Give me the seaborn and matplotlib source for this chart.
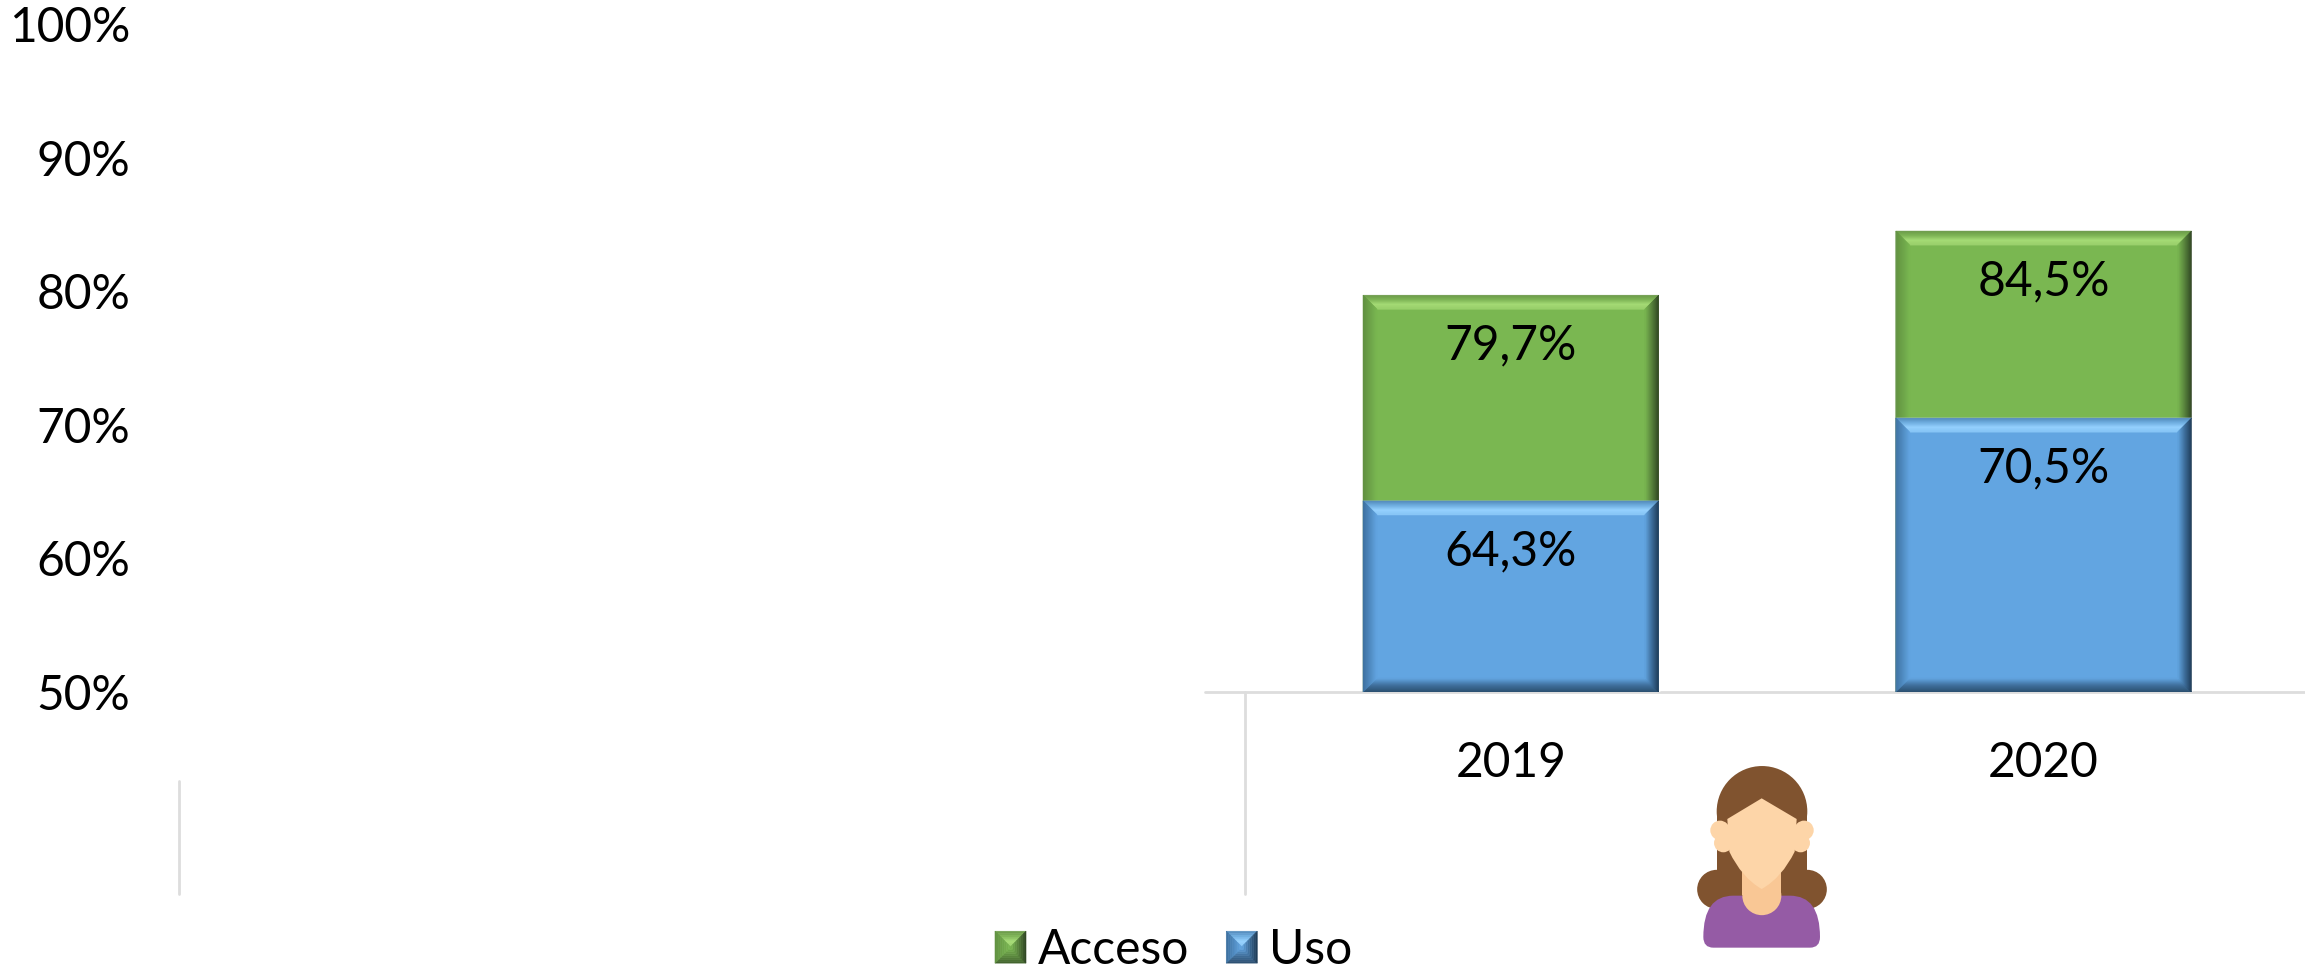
import numpy as np
import pandas as pd
import seaborn as sns
import matplotlib
matplotlib.use("Agg")
import matplotlib.pyplot as plt
from matplotlib.colors import LinearSegmentedColormap
from matplotlib.legend_handler import HandlerBase
from matplotlib.patches import Circle, Patch, PathPatch, Polygon, Rectangle
from matplotlib.path import Path
from matplotlib.transforms import IdentityTransform

# data (the first two categories are empty in the original)
categories = ["", " ", "2019", "2020"]
acceso = [np.nan, np.nan, 79.7, 84.5]
uso = [np.nan, np.nan, 64.3, 70.5]
y_ticks = [50, 60, 70, 80, 90, 100]

# styles
GREEN = "#7AB751"
BLUE = "#62A5E1"
LINE = "#DDDDDD"
FONT = 34.5
BEVELS = {
    GREEN: dict(top=["#6A9848", "#7FB557", "#A6DC76", "#9AD06C"], bottom=["#3F5F2C", GREEN],
                left=["#5F8F40", GREEN], right=["#2C4021", "#557F3A", GREEN]),
    BLUE: dict(top=["#5288B8", "#6FAEE0", "#96D2FF", "#88C6F6"], bottom=["#2B4E6E", "#3F6F9C", BLUE],
               left=["#3C6F9E", BLUE], right=["#1B3650", "#3B6A96", BLUE]),
}

sns.set_theme(style="white")
plt.rcParams["font.family"] = ["Lato", "DejaVu Sans"]


def bevel_polys(x0, y0, x1, y1, w, face, n=14, **kw):
    """Trapezoid slices running from the outer edge of a box towards its inside."""
    polys = []
    for side, stops in BEVELS[face].items():
        cmap = LinearSegmentedColormap.from_list(side, stops)
        for i in range(n):
            a, b = w * i / n, w * (i + 1) / n
            c = cmap((i + 0.5) / n)
            if side == "top":
                pts = [(x0 + a, y1 - a), (x1 - a, y1 - a), (x1 - b, y1 - b), (x0 + b, y1 - b)]
            elif side == "bottom":
                pts = [(x0 + a, y0 + a), (x1 - a, y0 + a), (x1 - b, y0 + b), (x0 + b, y0 + b)]
            elif side == "left":
                pts = [(x0 + a, y0 + a), (x0 + a, y1 - a), (x0 + b, y1 - b), (x0 + b, y0 + b)]
            else:
                pts = [(x1 - a, y0 + a), (x1 - a, y1 - a), (x1 - b, y1 - b), (x1 - b, y0 + b)]
            polys.append(Polygon(pts, closed=True, facecolor=c, edgecolor=c, linewidth=0.4, **kw))
    return polys


class BevelHandler(HandlerBase):
    def create_artists(self, legend, orig_handle, xdescent, ydescent, width, height, fontsize, trans):
        face = matplotlib.colors.to_hex(orig_handle.get_facecolor()).upper()
        return bevel_polys(-xdescent, -ydescent, width - xdescent, height - ydescent,
                           width / 2, face, n=8, transform=trans)


df = pd.DataFrame({"cat": categories, "Acceso": acceso, "Uso": uso})

fig = plt.figure(figsize=(23.05, 9.73), dpi=100)
ax = fig.add_axes([179 / 2305, (973 - 692) / 973, 2131 / 2305, 668 / 973])

sns.barplot(data=df, x="cat", y="Acceso", order=categories, color=GREEN, saturation=1,
            width=0.555, zorder=2, ax=ax)
sns.barplot(data=df, x="cat", y="Uso", order=categories, color=BLUE, saturation=1,
            width=0.555, zorder=3, ax=ax)

ax.set_xlim(-0.5, 3.5)
ax.set_ylim(50, 100)
ax.set_yticks(y_ticks)
ax.set_yticklabels([f"{v}%" for v in y_ticks])
ax.set_xlabel("")
ax.set_ylabel("")
ax.tick_params(axis="y", length=0, pad=35, labelsize=FONT, labelcolor="black")
ax.tick_params(axis="x", length=0, pad=35, labelsize=FONT, labelcolor="black")
sns.despine(ax=ax, left=True, bottom=True, top=True, right=True)

# bevels and value labels
for cont, values, face, z in zip(ax.containers, [acceso, uso], [GREEN, BLUE], [2.5, 3.5]):
    shown = [v for v in values if not np.isnan(v)]
    for bar, v in zip(cont.patches, shown):
        xa, xb = bar.get_x(), bar.get_x() + bar.get_width()
        (x0, y0), (x1, y1) = ax.transData.transform([(xa, 50), (xb, v)])
        for p in bevel_polys(x0, y0, x1, y1, 14, face, transform=IdentityTransform(), zorder=z):
            ax.add_patch(p)
        ax.annotate(f"{v:.1f}%".replace(".", ","), xy=((xa + xb) / 2, v), xytext=(0, -33.5),
                    textcoords="offset points", ha="center", va="center_baseline",
                    fontsize=FONT, color="black", zorder=6)

# axis lines
ax.plot([1.426, 3.5], [50, 50], color=LINE, lw=2, clip_on=False, zorder=1)
trans = ax.get_xaxis_transform()
ax.plot([1.5, 1.5], [0, -0.302], color=LINE, lw=2, transform=trans, clip_on=False)
ax.plot([-0.5, -0.5], [-0.133, -0.302], color=LINE, lw=2, transform=trans, clip_on=False)

# legend
handles = [Patch(facecolor=GREEN), Patch(facecolor=BLUE)]
ax.legend(handles, ["Acceso", "Uso"], ncol=2, frameon=False, fontsize=FONT,
          handler_map={Patch: BevelHandler()}, handlelength=0.647, handleheight=0.647,
          handletextpad=0.24, columnspacing=0.78, borderpad=0, borderaxespad=0,
          loc="lower left", bbox_to_anchor=(995 / 2305, 1 - 972 / 973),
          bbox_transform=fig.transFigure, labelcolor="black")

# woman icon, in pixel coordinates of the figure
icon = fig.add_axes([0, 0, 1, 1], zorder=5)
icon.set_xlim(0, 2305)
icon.set_ylim(973, 0)
icon.axis("off")


def z(x, y):
    return 1680 + x / 3, 755 + y / 3


HAIR, SKIN, NECK, SHIRT = "#80532F", "#FDD5A8", "#F9C795", "#955BA5"
icon.add_patch(Circle(z(246, 169), 45.3, color=HAIR, lw=0))
icon.add_patch(Rectangle(z(110, 169), 90.6, 87, color=HAIR, lw=0))
for cx in (110, 382):
    icon.add_patch(Circle(z(cx, 403), 19.5, color=HAIR, lw=0))
icon.add_patch(PathPatch(Path(
    [z(70, 578 - 32), z(70, 422), z(160, 422), z(330, 422), z(420, 422), z(420, 546),
     z(420, 578), z(390, 578), z(100, 578), z(70, 578), z(70, 546)],
    [Path.MOVETO, Path.CURVE3, Path.CURVE3, Path.LINETO, Path.CURVE3, Path.CURVE3,
     Path.CURVE3, Path.CURVE3, Path.LINETO, Path.CURVE3, Path.CURVE3]),
    facecolor=SHIRT, edgecolor="none"))
icon.add_patch(Rectangle(z(187, 340), 39, 27, color=NECK, lw=0))
icon.add_patch(Circle(z(245.5, 422), 19.5, color=NECK, lw=0))
icon.add_patch(PathPatch(Path(
    [z(245, 130), z(142, 192), z(148, 290), z(185, 368), z(245, 402), z(245, 402),
     z(306, 368), z(344, 290), z(350, 192), z(245, 130)],
    [Path.MOVETO, Path.LINETO, Path.LINETO, Path.CURVE3, Path.CURVE3, Path.LINETO,
     Path.CURVE3, Path.CURVE3, Path.LINETO, Path.CLOSEPOLY]),
    facecolor=SKIN, edgecolor="none"))
for cx, cy, r in [(120, 226, 9.7), (130, 264, 9.3), (372, 226, 9.7), (362, 264, 9.3)]:
    icon.add_patch(Circle(z(cx, cy), r, color=SKIN, lw=0))
for xs in ([100, 150, 150, 112], [392, 342, 342, 380]):
    icon.add_patch(Polygon([z(xs[0], 226), z(xs[1], 226), z(xs[2], 264), z(xs[3], 264)], color=SKIN, lw=0))

fig.savefig("out.png", dpi=100)
